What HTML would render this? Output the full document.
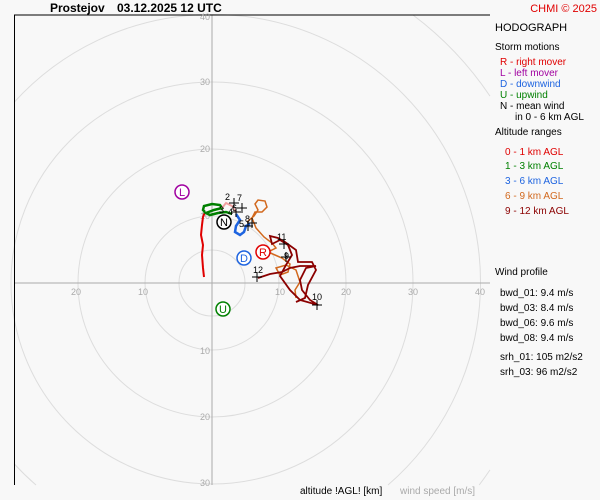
<!DOCTYPE html>
<html><head><style>
html,body{margin:0;padding:0;width:600px;height:500px;background:#f8f8f8;font-family:"Liberation Sans",sans-serif;overflow:hidden}
svg{display:block}
</style></head><body>
<svg width="600" height="500" xmlns="http://www.w3.org/2000/svg" font-family="Liberation Sans, sans-serif">
<rect width="600" height="500" fill="#f8f8f8"/>
<text x="50" y="12" font-size="12" font-weight="bold">Prostejov</text>
<text x="117" y="12" font-size="12" font-weight="bold">03.12.2025 12 UTC</text>
<text x="597" y="12" font-size="11" fill="#e00000" text-anchor="end">CHMI © 2025</text>
<g fill="none" stroke="#ddd" stroke-width="1">
<circle cx="212" cy="283" r="33"/>
<circle cx="212" cy="283" r="67"/>
<circle cx="212" cy="283" r="134"/>
<circle cx="212" cy="283" r="201"/>
<path d="M14,102.4 A268,268 0 1 1 388,485 M36,485 A268,268 0 0 1 14,463.6"/>
<path d="M413,15 A335,335 0 0 1 490,96.1 M490,469.9 A335,335 0 0 1 479.2,485"/>
<line x1="212" y1="15" x2="212" y2="485" stroke="#aaa"/>
<line x1="14" y1="283" x2="490" y2="283" stroke="#aaa"/>
</g>
<line x1="14" y1="15" x2="490" y2="15" stroke="#000"/>
<line x1="14.5" y1="15" x2="14.5" y2="485" stroke="#000"/>
<g font-size="9" fill="#aaa" text-anchor="middle">
<text x="76" y="295">20</text><text x="143" y="295">10</text><text x="280" y="295">10</text><text x="346" y="295">20</text><text x="413" y="295">30</text><text x="480" y="295">40</text>
<text x="205" y="20">40</text><text x="205" y="85">30</text><text x="205" y="152">20</text><text x="205" y="219">10</text><text x="205" y="354">10</text><text x="205" y="420">20</text><text x="205" y="486">30</text>
</g>
<polyline fill="none" stroke="#e00000" stroke-width="2" points="204,277 203,268 202,255 203,245 201,235 202,225 203,217 205,212"/>
<polyline fill="none" stroke="#008000" stroke-width="2.5" points="205,212 203,210 204,206 212,204 220,205 222,208 214,210 206,213 210,215 218,213 226,212 232,214"/>
<polyline fill="none" stroke="#f0a0a0" stroke-width="2" points="222,208 226,203 232,206 236,212"/>
<polyline fill="none" stroke="#1e64e0" stroke-width="2.5" points="236,214 240,220 236,226 235,232 240,235 244,232 246,226 250,224"/>
<polyline fill="none" stroke="#d2691e" stroke-width="1.5" points="247,222 254,216 258,210 255,204 258,200 265,201 267,207 262,212 255,212 252,218 256,228 264,237 272,243 276,248 268,252 275,255 282,258 290,264 288,272 280,275 276,268 286,265 296,270 300,282 295,290 296,298"/>
<polyline fill="none" stroke="#8b0000" stroke-width="1.8" points="258,278 270,274 282,272 290,268 300,266 316,266 306,268 300,280 302,290 310,300 318,305 300,300 290,290 280,276 286,265 292,255 288,245 280,240 272,244 270,236 278,238 285,242 296,250 298,262 312,262 316,270 308,285 305,298 296,302"/>
<g stroke="#000" stroke-width="1">
<path d="M229,203h10M234,198v10M237,208h10M242,203v10M231,212h10M236,207v10M243,226h10M248,221v10M247,223h10M252,218v10M279,244h10M284,239v10M281,257h10M286,252v10M252,277h10M257,272v10M312,305h10M317,300v10"/>
</g>
<g font-size="9" fill="#000">
<text x="225" y="200">2</text><text x="237" y="201">7</text><text x="219" y="213">3</text><text x="232" y="211">6</text><text x="228" y="215">4</text><text x="239" y="227">5</text><text x="245" y="222">8</text><text x="277" y="240">11</text><text x="284" y="259">9</text><text x="253" y="273">12</text><text x="312" y="300">10</text>
</g>
<g font-size="11" text-anchor="middle" stroke-width="1.5" fill="#fff">
<circle cx="182" cy="192" r="7" stroke="#a000a0"/><text x="182" y="196" fill="#a000a0">L</text>
<circle cx="224" cy="222" r="7" stroke="#000"/><text x="224" y="226" fill="#000">N</text>
<circle cx="263" cy="252" r="7" stroke="#e00000"/><text x="263" y="256" fill="#e00000">R</text>
<circle cx="244" cy="258" r="7" stroke="#1e64e0"/><text x="244" y="262" fill="#1e64e0">D</text>
<circle cx="223" cy="309" r="7" stroke="#008000"/><text x="223" y="313" fill="#008000">U</text>
</g>
<g font-size="10">
<text x="495" y="31" font-size="11">HODOGRAPH</text>
<text x="495" y="50">Storm motions</text>
<text x="500" y="65" fill="#e00000">R - right mover</text>
<text x="500" y="76" fill="#a000a0">L - left mover</text>
<text x="500" y="87" fill="#1e64e0">D - downwind</text>
<text x="500" y="98" fill="#008000">U - upwind</text>
<text x="500" y="109">N - mean wind</text>
<text x="515" y="120">in 0 - 6 km AGL</text>
<text x="495" y="135">Altitude ranges</text>
<text x="505" y="155" fill="#e00000">0 - 1 km AGL</text>
<text x="505" y="169" fill="#008000">1 - 3 km AGL</text>
<text x="505" y="184" fill="#1e64e0">3 - 6 km AGL</text>
<text x="505" y="199" fill="#d2691e">6 - 9 km AGL</text>
<text x="505" y="214" fill="#8b0000">9 - 12 km AGL</text>
<text x="495" y="275">Wind profile</text>
<text x="500" y="296">bwd_01: 9.4 m/s</text>
<text x="500" y="311">bwd_03: 8.4 m/s</text>
<text x="500" y="326">bwd_06: 9.6 m/s</text>
<text x="500" y="341">bwd_08: 9.4 m/s</text>
<text x="500" y="360">srh_01: 105 m2/s2</text>
<text x="500" y="375">srh_03: 96 m2/s2</text>
<text x="300" y="494">altitude !AGL! [km]</text>
<text x="400" y="494" fill="#aaa">wind speed [m/s]</text>
</g>
</svg>
</body></html>
